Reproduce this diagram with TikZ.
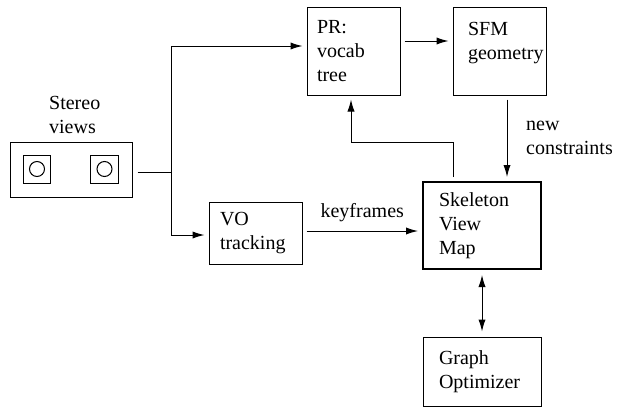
\documentclass[tikz,border=0pt]{standalone}
\usepackage{fontspec}
\setmainfont{Liberation Serif}
\usetikzlibrary{arrows.meta}

\begin{document}
\begin{tikzpicture}[x=0.5pt, y=-0.5pt, font=\fontsize{10}{12}\selectfont, line width=0.5pt]
  \tikzstyle{block} = [rectangle, draw=black, align=left, inner ysep=0pt, text width=36.5pt, inner xsep=5pt, minimum height=44pt]
  \tikzstyle{arrow} = [draw, -{Latex[length=6pt,width=3.6pt]}, shorten <=2pt, shorten >=2pt]
  \tikzstyle{darrow} = [draw, {Latex[length=6pt,width=3.6pt]}-{Latex[length=6pt,width=3.6pt]}, shorten <=2.5pt, shorten >=2.5pt]
  \tikzstyle{line} = [draw, shorten <=2.5pt]

  \useasboundingbox (0,0) rectangle (624,407);

  % stereo camera
  \node (camlabel) [anchor=west, align=left] at (42,115) {Stereo\\views};
  \node (cam) [rectangle, draw, minimum width=61pt, minimum height=27.5pt] at (71,169.5) {};
  \foreach \cx in {37,104.5} {
    \draw (\cx-13.75,155) rectangle (\cx+13.75,183);
    \draw (\cx,169) circle [radius=3.75pt];
  }
  \coordinate (split) at (171,172);

  % boxes
  \node (pr) [block] at (353.5,51) {PR:\\vocab\\tree};
  \node (sfm) [block, inner xsep=7.5pt, text width=31.5pt] at (499.5,51) {SFM\\geometry\vspace{8pt}};
  \node (vo) [block, inner xsep=5.5pt, text width=35.5pt, minimum height=31pt] at (255.5,233) {VO\\tracking};
  \node (skel) [block, line width=1pt, inner xsep=8pt, text width=43pt, minimum height=43.5pt] at (482,225.5) {Skeleton\\View\\Map};
  \node (graph) [block, inner xsep=8pt, text width=43pt, minimum height=34.5pt] at (482,371.5) {Graph\\Optimizer};

  % connectors
  \draw [line] (cam.east |- split) -- (split);
  \draw [arrow, shorten <=0pt] (split) |- ([yshift=2.5pt]pr.west);
  \draw [arrow, shorten <=0pt] (split) |- ([yshift=-1pt]vo.west);
  \draw [arrow] ([yshift=5pt]pr.east) -- ([yshift=5pt]sfm.west);
  \draw [arrow] ([xshift=3.75pt]sfm.south) -- ([xshift=3.75pt]sfm.south |- skel.north)
    node [midway, right, align=left, xshift=6pt] {new\\constraints};
  \draw [arrow] ([xshift=-14.5pt]skel.north) -- ++(0,-39) -| ([xshift=-1.25pt]pr.south);
  \draw [arrow] ([yshift=1pt]vo.east) -- ([yshift=1pt]vo.east -| skel.west)
    node [midway, above, yshift=1pt] {keyframes};
  \draw [darrow] (skel) -- (graph);

\end{tikzpicture}
\end{document}
